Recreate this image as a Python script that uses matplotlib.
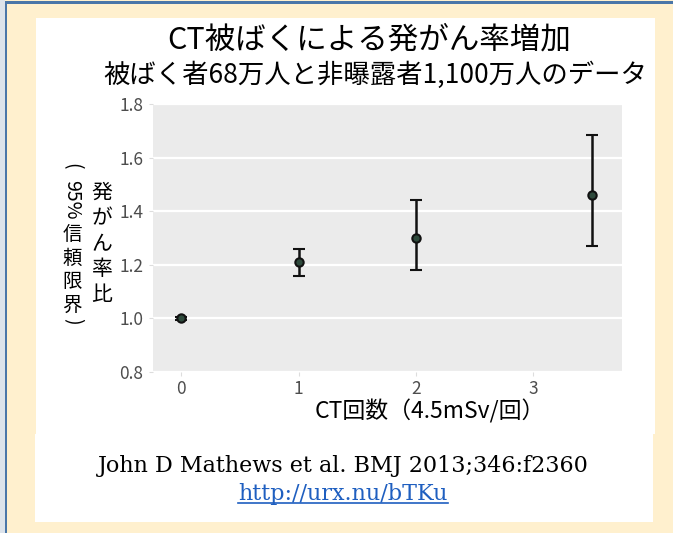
import matplotlib
matplotlib.use('Agg')
import matplotlib.pyplot as plt
from matplotlib.patches import Rectangle
from matplotlib.lines import Line2D

plt.rcParams['font.family'] = ['Noto Sans CJK JP', 'DejaVu Sans']

# データ (CT回数, 発がん率比, 95%信頼限界)
ct_count = [0, 1, 2, 3.5]
rate_ratio = [1.00, 1.21, 1.30, 1.46]
ci_low = [0.995, 1.16, 1.18, 1.27]
ci_high = [1.005, 1.26, 1.44, 1.685]

x_ticks = [0, 1, 2, 3]
y_ticks = [0.8, 1.0, 1.2, 1.4, 1.6, 1.8]

title1 = 'CT被ばくによる発がん率増加'
title2 = '被ばく者68万人と非曝露者1,100万人のデータ'
xlabel = 'CT回数（4.5mSv/回）'
citation = 'John D Mathews et al. BMJ 2013;346:f2360'
link = 'http://urx.nu/bTKu'

W, H = 673, 533
fig = plt.figure(figsize=(W / 100, H / 100), dpi=100)


def fx(px):
    return px / W


def fy(py):
    return 1 - py / H


def rect(x0, y0, x1, y1, color):
    fig.patches.append(Rectangle((fx(x0), fy(y1)), fx(x1) - fx(x0), fy(y0) - fy(y1),
                                 transform=fig.transFigure, facecolor=color,
                                 edgecolor='none', zorder=-10))


# 背景 (クリーム色の枠と白いパネル)
rect(0, 0, W, H, '#FFF0CE')
rect(0, 0, 4.5, H, '#DCE3EB')
rect(4.5, 2, 7, H, '#4A76A8')
rect(4.5, 1.5, W, 4, '#4A76A8')
rect(36, 18, 655, 434, 'white')
rect(35, 434, 653, 522, 'white')

# グラフ本体
ax = fig.add_axes([fx(153), fy(372), fx(622) - fx(153), fy(104) - fy(372)])
ax.set_facecolor('#EBEBEB')
for s in ax.spines.values():
    s.set_visible(False)

yerr = [[r - lo for r, lo in zip(rate_ratio, ci_low)],
        [hi - r for r, hi in zip(rate_ratio, ci_high)]]
ax.errorbar(ct_count, rate_ratio, yerr=yerr, fmt='o', color='#111111',
            ecolor='#111111', elinewidth=1.8, capsize=4, capthick=1.8,
            markersize=6, markerfacecolor='#2E4A3C', markeredgecolor='#111111',
            markeredgewidth=1.5, zorder=3)

ax.set_xlim(-0.24, 3.755)
ax.set_ylim(0.8, 1.8)
ax.set_xticks(x_ticks)
ax.set_yticks(y_ticks)
ax.set_yticklabels([f'{v:.1f}' for v in y_ticks])
ax.yaxis.grid(True, color='white', linewidth=1.6)
ax.xaxis.grid(False)
ax.set_axisbelow(True)
ax.tick_params(axis='both', length=3, color='#DDDDDD', labelcolor='#4D4D4D',
               labelsize=12.5)
ax.tick_params(axis='x', pad=3)
ax.tick_params(axis='y', pad=4)

# タイトル
fig.text(fx(369), fy(40), title1, ha='center', va='center', fontsize=22)
fig.text(fx(375), fy(75), title2, ha='center', va='center', fontsize=19)

# 縦書きの軸ラベル
fig.text(fx(102), fy(244), '\n'.join('発がん率比'), ha='center', va='center',
         fontsize=15, linespacing=1.2)
fig.text(fx(72), fy(166), '(', ha='center', va='center', rotation=270,
         fontsize=14)
fig.text(fx(72), fy(200), '95%', ha='center', va='center', rotation=270,
         fontsize=14)
fig.text(fx(72), fy(270), '\n'.join('信頼限界'), ha='center', va='center',
         fontsize=14, linespacing=1.15)
fig.text(fx(72), fy(321), ')', ha='center', va='center', rotation=270,
         fontsize=14)

fig.text(fx(430), fy(411), xlabel, ha='center', va='center', fontsize=16.5)

# 出典
fig.text(fx(343), fy(466), citation, ha='center', va='center', fontsize=16,
         family=['DejaVu Serif'])
t = fig.text(fx(343), fy(494), link, ha='center', va='center', fontsize=16,
             color='#1F5FC0', family=['DejaVu Serif'])
fig.canvas.draw()
bb = t.get_window_extent().transformed(fig.transFigure.inverted())
fig.add_artist(Line2D([bb.x0, bb.x1], [bb.y0 + 0.004, bb.y0 + 0.004],
                      transform=fig.transFigure, color='#1F5FC0', linewidth=1.2))

fig.savefig('out.png', dpi=100)
